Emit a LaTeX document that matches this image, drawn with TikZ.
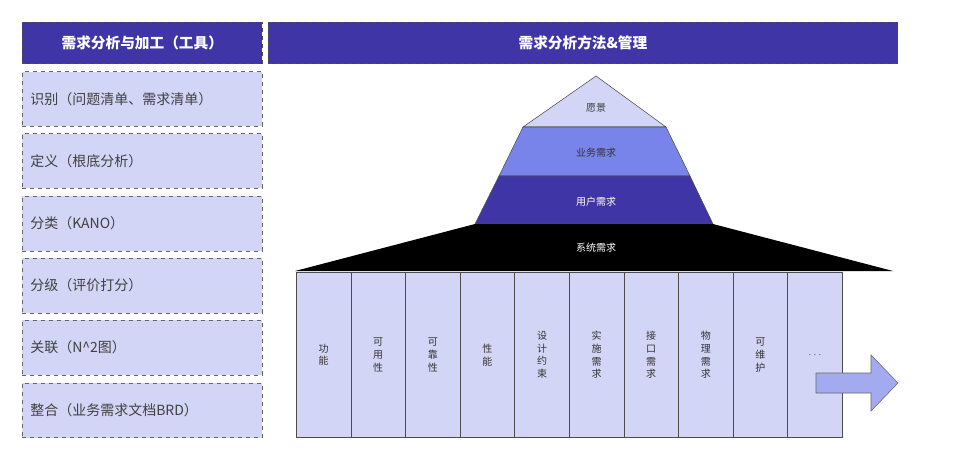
\documentclass[tikz,border=0pt]{standalone}
\usepackage{fontspec}
\setmainfont{Noto Sans CJK SC}
\usetikzlibrary{positioning}
\definecolor{hdr}{HTML}{3F35A6}
\definecolor{pale}{HTML}{D3D5F6}
\definecolor{mid}{HTML}{7884EA}
\definecolor{arr}{HTML}{A3AAF0}
\begin{document}
\begin{tikzpicture}[x=1pt,y=-1pt,
  header/.style={draw=black!70,dashed,fill=hdr,text=white,font=\bfseries\fontsize{11}{13}\selectfont,inner sep=0pt},
  item/.style={draw=black!60,dashed,fill=pale,text=black!75,font=\fontsize{10.5}{12}\selectfont,minimum width=180pt,minimum height=41pt,anchor=north west,inner sep=0pt,text width=168pt},
  col/.style={draw=black!70,fill=pale,minimum width=41pt,minimum height=124pt,anchor=north west,inner sep=0pt,font=\fontsize{7.5}{9.5}\selectfont,align=center,text=black!80},
  tier/.style={font=\fontsize{7.5}{9}\selectfont}]
\useasboundingbox (0,0) rectangle (720,345);
\node[header,minimum width=180pt,minimum height=31pt,anchor=north west] (hl) at (16.5,16.5) {需求分析与加工（工具）};
\node[header,minimum width=472pt,minimum height=31pt,anchor=north west] (hr) at (201,16.5) {需求分析方法\&管理};
\node[item] (i1) at (16.5,53.5) {识别（问题清单、需求清单）};
\node[item] (i2) at (16.5,100) {定义（根底分析）};
\node[item] (i3) at (16.5,147) {分类（KANO）};
\node[item] (i4) at (16.5,193.5) {分级（评价打分）};
\node[item] (i5) at (16.5,240) {关联（N\^{}2图）};
\node[item] (i6) at (16.5,287) {整合（业务需求文档BRD）};
% pyramid, pixel coordinates scaled 0.75
\begin{scope}[x=0.75pt,y=-0.75pt]
\draw[black!70,fill=pale] (596,76) -- (666,127) -- (523,127) -- cycle;
\draw[black!70,fill=mid] (523,127) -- (666,127) -- (690,176) -- (499,176) -- cycle;
\draw[black!70,fill=hdr] (499,176) -- (690,176) -- (713,224) -- (475,224) -- cycle;
\fill[black] (475,224) -- (713,224) -- (893,271) -- (295,271) -- cycle;
\node[tier,text=black!75] (t1) at (596,108) {愿景};
\node[tier,text=black!80] (t2) at (596,153) {业务需求};
\node[tier,text=white] (t3) at (596,202) {用户需求};
\node[tier,text=white] (t4) at (596,248) {系统需求};
\end{scope}
\foreach \t [count=\i from 0] in {功\\能,可\\用\\性,可\\靠\\性,性\\能,设\\计\\约\\束,实\\施\\需\\求,接\\口\\需\\求,物\\理\\需\\求,可\\维\\护,{$\cdots$}}
  \node[col] (c\i) at (222+\i*40.95,204) {\t};
\begin{scope}[x=0.75pt,y=-0.75pt]
\draw[black!60,fill=arr] (816,373) -- (871,373) -- (871,355) -- (898,383) -- (871,411) -- (871,393) -- (816,393) -- cycle;
\end{scope}
\end{tikzpicture}
\end{document}
